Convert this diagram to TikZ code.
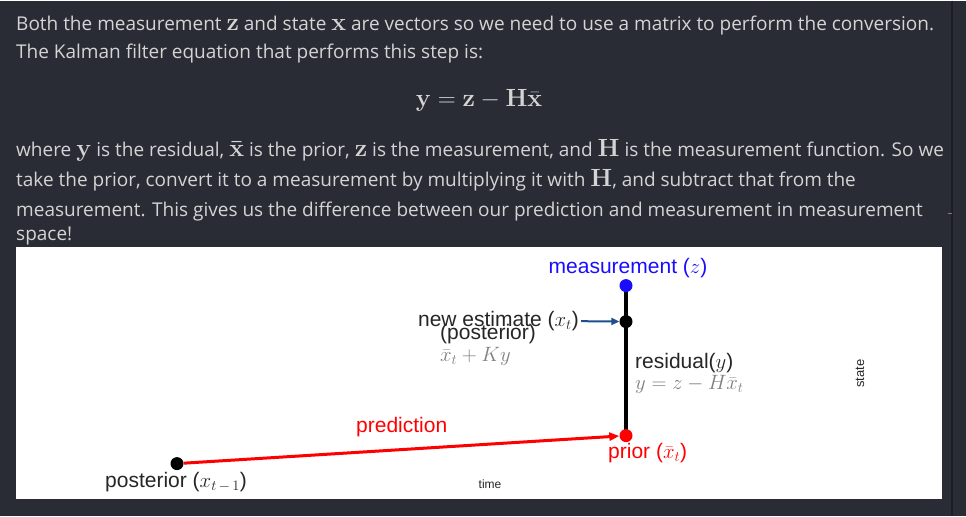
\documentclass[tikz,border=0pt]{standalone}
\usepackage[no-math]{fontspec}
\usepackage{amsmath}
\setmainfont{Open Sans}
\newfontfamily\plotfont{Liberation Sans}
\usetikzlibrary{arrows.meta,positioning}
\pgfdeclarelayer{bg}
\pgfsetlayers{bg,main}
\definecolor{pagebg}{HTML}{292C35}
\definecolor{bodytxt}{HTML}{D4D4D4}
\definecolor{scrolline}{HTML}{1C1E24}
\definecolor{measblue}{HTML}{1A0DFF}
\definecolor{estblue}{HTML}{1F4E8C}
\definecolor{plottxt}{HTML}{262626}
\newcommand{\bv}[1]{{\fontsize{23}{23}\selectfont$\boldsymbol{\mathbf{#1}}$}}

\begin{document}
\begin{tikzpicture}[x=1pt, y=-1pt, >=Stealth,
  para/.style={anchor=base west, inner sep=0pt, text=bodytxt, font=\fontsize{19}{22}\selectfont},
  plt/.style={inner sep=0pt, text=plottxt, font=\plotfont\fontsize{21}{23}\selectfont},
  small/.style={plt, font=\plotfont\fontsize{12}{14}\selectfont},
  dot/.style={circle, inner sep=0pt, minimum size=13pt}]
  \begin{pgfonlayer}{bg}
    \fill[pagebg] (0,0) rectangle (966,515);
    \fill[white] (16,246) rectangle (942,498);
    \draw[scrolline, line width=1.2pt] (952,0) -- (952,515);
    \draw[gray, line width=1pt] (948,213) -- (952,213);
  \end{pgfonlayer}
  \useasboundingbox (0,0) rectangle (966,515);

  % text above the plot
  \node[para] (l1) at (16,30) {Both the measurement \bv{z} and state \bv{x} are vectors so we need to use a matrix to perform the conversion.};
  \node[para] (l2) at (16,58) {The Kalman filter equation that performs this step is:};
  \node[para, anchor=base, font=\fontsize{24}{28}\selectfont] (eqn) at (479,106) {$\boldsymbol{\mathbf{y}} = \boldsymbol{\mathbf{z}} - \boldsymbol{\mathbf{H}}\bar{\boldsymbol{\mathbf{x}}}$};
  \node[para] (l3) at (16,156) {where \bv{y} is the residual, \bv{\bar{x}} is the prior, \bv{z} is the measurement, and \bv{H} is the measurement function. So we};
  \node[para] (l4) at (16,186) {take the prior, convert it to a measurement by multiplying it with \bv{H}, and subtract that from the};
  \node[para] (l5) at (16,216) {measurement. This gives us the difference between our prediction and measurement in measurement};
  \node[para] (l6) at (16,240) {space!};

  % the plot
  \node[dot, fill=measblue] (meas) at (626,285) {};
  \node[dot, fill=black] (est) at (626,321) {};
  \node[dot, fill=red] (prior) at (626,435) {};
  \node[dot, fill=black] (post) at (177,463) {};

  \node[plt, text=measblue, anchor=base] (measlbl) at (628,273) {measurement ($z$)};
  \node[plt, anchor=base east] (estlbl) at (579,326) {new estimate ($x_t$)};
  \node[plt, anchor=base] (postlbl) at (488,339) {(posterior)};
  \node[plt, text=gray, anchor=base west] (kylbl) at (440,361) {$\bar{x}_t + Ky$};
  \node[plt, anchor=base west] (reslbl) at (635,368) {residual($y$)};
  \node[plt, text=gray, anchor=base west] (resexpr) at (635,389) {$y = z - H\bar{x}_t$};
  \node[plt, text=red, anchor=base west] (priorlbl) at (608,458) {prior ($\bar{x}_t$)};
  \node[plt, text=red, anchor=base west] (predlbl) at (356,432) {prediction};
  \node[plt, anchor=base west] (prevlbl) at (105,487) {posterior ($x_{t\,-\,1}$)};
  \node[small, anchor=base] (timelbl) at (490,488) {time};
  \node[small, font=\plotfont\fontsize{13}{15}\selectfont, rotate=90] (statelbl) at (860,373) {state};

  \begin{pgfonlayer}{bg}
    \draw[line width=3.5pt] (meas.center) -- (prior.center);
  \end{pgfonlayer}
  \draw[red, line width=3pt, -{Triangle[length=10pt, width=8pt]}] (post) -- (prior);
  \draw[estblue, line width=2pt, -{Triangle[length=8pt, width=7pt]}, shorten <=2pt] (estlbl.east) -- (est);
\end{tikzpicture}
\end{document}
